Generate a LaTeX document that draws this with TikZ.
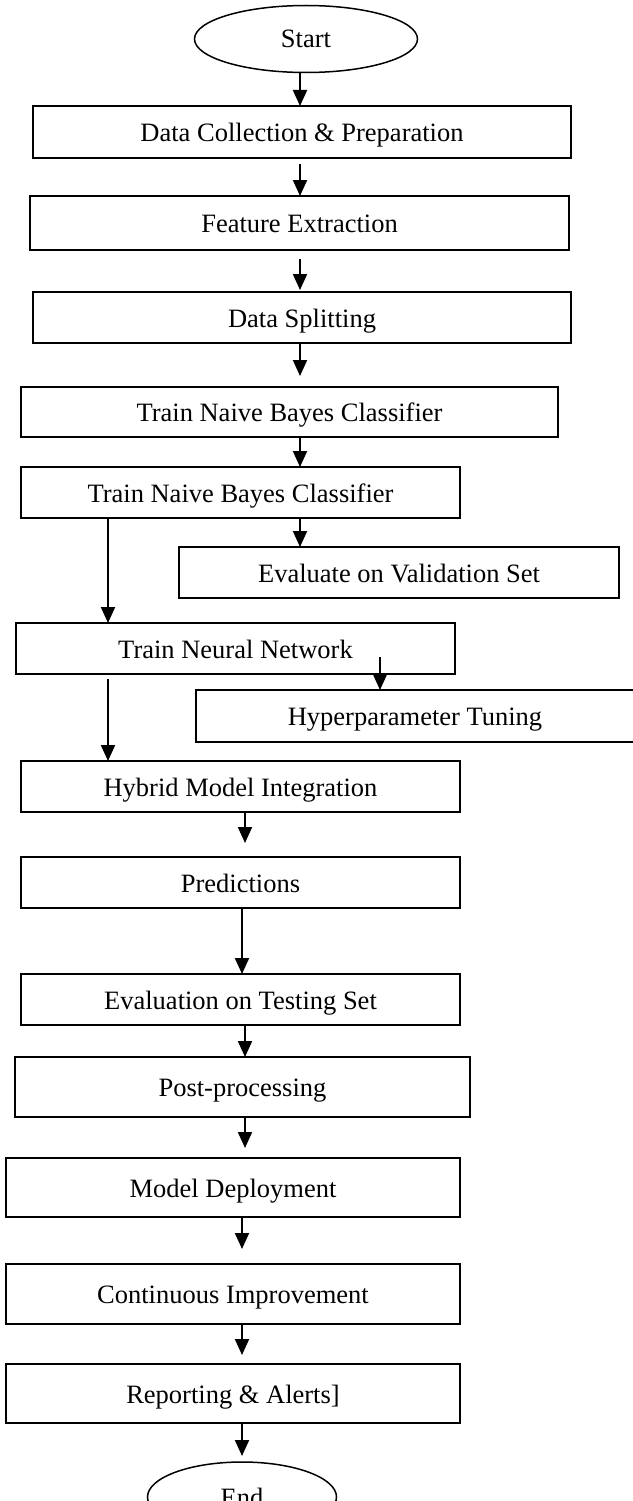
\documentclass[tikz,border=0pt]{standalone}
\usepackage{fontspec}
\setmainfont{Liberation Serif}
\usetikzlibrary{arrows.meta,shapes.geometric}

\tikzset{
  stepbox/.style={draw=black, line width=1.5pt, rectangle, inner sep=0pt, outer sep=0pt,
    anchor=north west, text height=19.5pt, text depth=0pt,
    font=\fontsize{26.5}{30}\selectfont},
  terminal/.style={draw=black, line width=1.5pt, ellipse, inner sep=0pt, outer sep=0pt,
    font=\fontsize{26.5}{30}\selectfont},
  arr/.style={line width=2pt, -{Triangle[length=16pt,width=14pt]}}
}

\begin{document}
\begin{tikzpicture}[x=1pt, y=-1pt]
\useasboundingbox (0,0) rectangle (632,1501);

% terminals
\node[terminal, minimum width=223pt, minimum height=67pt] (start) at (306,39) {Start};
\node[terminal, minimum width=189pt, minimum height=70pt] (end) at (242,1497) {End};

% process steps
\node[stepbox, minimum width=538pt, minimum height=52pt] (dc) at (33,106) {Data Collection \& Preparation};
\node[stepbox, minimum width=539pt, minimum height=54pt] (fe) at (30,196) {Feature Extraction};
\node[stepbox, minimum width=538pt, minimum height=51pt] (ds) at (33,292) {Data Splitting};
\node[stepbox, minimum width=537pt, minimum height=50pt] (nb1) at (21,387) {Train Naive Bayes Classifier};
\node[stepbox, minimum width=439pt, minimum height=51pt] (nb2) at (21,467) {Train Naive Bayes Classifier};
\node[stepbox, minimum width=440pt, minimum height=51pt] (val) at (179,547) {Evaluate on Validation Set};
\node[stepbox, minimum width=439pt, minimum height=51pt] (nn) at (16,623) {Train Neural Network};
\node[stepbox, minimum width=438pt, minimum height=52pt] (hyp) at (196,690) {Hyperparameter Tuning};
\node[stepbox, minimum width=439pt, minimum height=51pt] (hyb) at (21,761) {Hybrid Model Integration};
\node[stepbox, minimum width=439pt, minimum height=51pt] (pred) at (21,857) {Predictions};
\node[stepbox, minimum width=439pt, minimum height=51pt] (test) at (21,974) {Evaluation on Testing Set};
\node[stepbox, minimum width=455pt, minimum height=60pt] (post) at (15,1057) {Post-processing};
\node[stepbox, minimum width=454pt, minimum height=59pt] (dep) at (6,1158) {Model Deployment};
\node[stepbox, minimum width=454pt, minimum height=60pt] (imp) at (6,1264) {Continuous Improvement};
\node[stepbox, minimum width=454pt, minimum height=59pt] (rep) at (6,1364) {Reporting \& Alerts]};

% vertical guides for the connectors
\coordinate (ax) at (300,0);
\coordinate (lx) at (108,0);
\coordinate (hx) at (380,0);
\coordinate (bx) at (245,0);
\coordinate (cx) at (242,0);

% connectors
\draw[arr] (start.south -| ax) -- (dc.north -| ax);
\draw[arr, shorten <=6pt] (dc.south -| ax) -- (fe.north -| ax);
\draw[arr, shorten <=9pt, shorten >=2pt] (fe.south -| ax) -- (ds.north -| ax);
\draw[arr, shorten >=11pt] (ds.south -| ax) -- (nb1.north -| ax);
\draw[arr] (nb1.south -| ax) -- (nb2.north -| ax);
\draw[arr] (nb2.south -| ax) -- (val.north -| ax);
\draw[arr] (nb2.south -| lx) -- (nn.north -| lx);
\draw[arr, shorten <=-17pt] (nn.south -| hx) -- (hyp.north -| hx);
\draw[arr, shorten <=5pt] (nn.south -| lx) -- (hyb.north -| lx);
\draw[arr, shorten >=14pt] (hyb.south -| bx) -- (pred.north -| bx);
\draw[arr] (pred.south -| cx) -- (test.north -| cx);
\draw[arr] (test.south -| bx) -- (post.north -| bx);
\draw[arr, shorten >=10pt] (post.south -| bx) -- (dep.north -| bx);
\draw[arr, shorten >=15pt] (dep.south -| cx) -- (imp.north -| cx);
\draw[arr, shorten >=9pt] (imp.south -| cx) -- (rep.north -| cx);
\draw[arr, shorten >=6pt] (rep.south -| cx) -- (end.north -| cx);
\end{tikzpicture}
\end{document}
